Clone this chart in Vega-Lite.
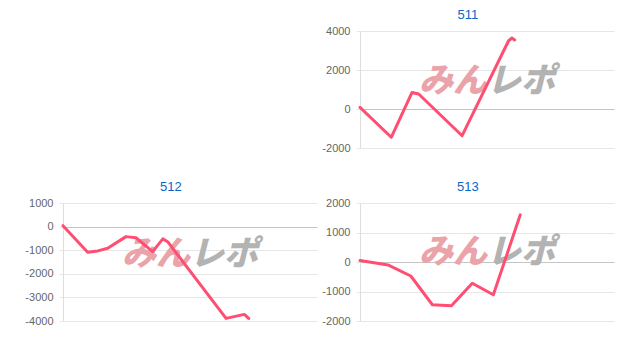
{
  "$schema": "https://vega.github.io/schema/vega-lite/v6.json",
  "padding": {"left": 24, "top": 9, "right": 5, "bottom": 5},
  "columns": 2,
  "spacing": {"row": 28, "column": 4},
  "config": {
    "view": {"stroke": null},
    "font": "Liberation Sans",
    "title": {"fontSize": 13, "fontWeight": "normal", "color": "#0a66c8", "offset": 3, "font": "Liberation Sans", "frame": "bounds"},
    "axisY": {
      "grid": true, "domainColor": "#dedede", "tickColor": "#e6e6e6",
      "gridColor": {"condition": {"test": "datum.value === 0", "value": "#c4c4c4"}, "value": "#e6e6e6"},
      "labelExpr": "'' + datum.value",
      "tickSize": 4, "labelPadding": 6, "labelFontSize": 11, "labelColor": "#666666", "labelFont": "Liberation Sans"
    }
  },
  "concat": [
    {
      "width": 254, "height": 117,
      "data": {"values": [{"t": ""}]},
      "mark": {"type": "text"},
      "encoding": {"text": {"field": "t"}}
    },
    {
      "title": "511",
      "width": 254, "height": 117,
      "data": {"values": [
        {"x": 0, "y": 80}, {"x": 12.3, "y": -1450}, {"x": 20.5, "y": 850}, {"x": 23.1, "y": 770},
        {"x": 40.2, "y": -1370}, {"x": 58.5, "y": 3500}, {"x": 59.8, "y": 3640}, {"x": 60.9, "y": 3540}
      ]},
      "encoding": {
        "x": {"field": "x", "type": "quantitative", "scale": {"domain": [0, 100]}, "axis": null},
        "y": {"field": "y", "type": "quantitative", "scale": {"domain": [-2000, 4000], "nice": false}, "axis": {"title": null, "values": [-2000, 0, 2000, 4000]}}
      },
      "layer": [
        {
          "data": {"values": [{"x": 50, "y": 1400, "t": "みん"}]},
          "mark": {"type": "text", "align": "right", "baseline": "middle", "font": "Noto Sans CJK JP", "fontWeight": 900, "fontStyle": "italic", "fontSize": 34, "color": "#eaa3a9"},
          "encoding": {"text": {"field": "t"}}
        },
        {
          "data": {"values": [{"x": 50, "y": 1400, "t": "レポ"}]},
          "mark": {"type": "text", "align": "left", "baseline": "middle", "font": "Noto Sans CJK JP", "fontWeight": 900, "fontStyle": "italic", "fontSize": 34, "color": "#b3b3b3"},
          "encoding": {"text": {"field": "t"}}
        },
        {
          "mark": {"type": "line", "color": "#fe4f72", "strokeWidth": 3, "strokeCap": "round", "strokeJoin": "round"},
          "encoding": {}
        }
      ]
    },
    {
      "title": "512",
      "width": 254, "height": 118,
      "data": {"values": [
        {"x": 0, "y": 40}, {"x": 9.7, "y": -1090}, {"x": 13.7, "y": -1030}, {"x": 17.6, "y": -920},
        {"x": 24.8, "y": -425}, {"x": 28.7, "y": -470}, {"x": 35.3, "y": -1060}, {"x": 39.3, "y": -520},
        {"x": 41.2, "y": -640}, {"x": 64.2, "y": -3890}, {"x": 71.4, "y": -3720}, {"x": 73.1, "y": -3890}
      ]},
      "encoding": {
        "x": {"field": "x", "type": "quantitative", "scale": {"domain": [0, 100]}, "axis": null},
        "y": {"field": "y", "type": "quantitative", "scale": {"domain": [-4000, 1000], "nice": false}, "axis": {"title": null, "values": [-4000, -3000, -2000, -1000, 0, 1000]}}
      },
      "layer": [
        {
          "data": {"values": [{"x": 50, "y": -1200, "t": "みん"}]},
          "mark": {"type": "text", "align": "right", "baseline": "middle", "font": "Noto Sans CJK JP", "fontWeight": 900, "fontStyle": "italic", "fontSize": 34, "color": "#eaa3a9"},
          "encoding": {"text": {"field": "t"}}
        },
        {
          "data": {"values": [{"x": 50, "y": -1200, "t": "レポ"}]},
          "mark": {"type": "text", "align": "left", "baseline": "middle", "font": "Noto Sans CJK JP", "fontWeight": 900, "fontStyle": "italic", "fontSize": 34, "color": "#b3b3b3"},
          "encoding": {"text": {"field": "t"}}
        },
        {
          "mark": {"type": "line", "color": "#fe4f72", "strokeWidth": 3, "strokeCap": "round", "strokeJoin": "round"},
          "encoding": {}
        }
      ]
    },
    {
      "title": "513",
      "width": 254, "height": 118,
      "data": {"values": [
        {"x": 0, "y": 50}, {"x": 11, "y": -100}, {"x": 20, "y": -475}, {"x": 28.5, "y": -1450},
        {"x": 36, "y": -1480}, {"x": 44.2, "y": -720}, {"x": 52.5, "y": -1110}, {"x": 63.1, "y": 1600}
      ]},
      "encoding": {
        "x": {"field": "x", "type": "quantitative", "scale": {"domain": [0, 100]}, "axis": null},
        "y": {"field": "y", "type": "quantitative", "scale": {"domain": [-2000, 2000], "nice": false}, "axis": {"title": null, "values": [-2000, -1000, 0, 1000, 2000]}}
      },
      "layer": [
        {
          "data": {"values": [{"x": 50, "y": 300, "t": "みん"}]},
          "mark": {"type": "text", "align": "right", "baseline": "middle", "font": "Noto Sans CJK JP", "fontWeight": 900, "fontStyle": "italic", "fontSize": 34, "color": "#eaa3a9"},
          "encoding": {"text": {"field": "t"}}
        },
        {
          "data": {"values": [{"x": 50, "y": 300, "t": "レポ"}]},
          "mark": {"type": "text", "align": "left", "baseline": "middle", "font": "Noto Sans CJK JP", "fontWeight": 900, "fontStyle": "italic", "fontSize": 34, "color": "#b3b3b3"},
          "encoding": {"text": {"field": "t"}}
        },
        {
          "mark": {"type": "line", "color": "#fe4f72", "strokeWidth": 3, "strokeCap": "round", "strokeJoin": "round"},
          "encoding": {}
        }
      ]
    }
  ]
}
